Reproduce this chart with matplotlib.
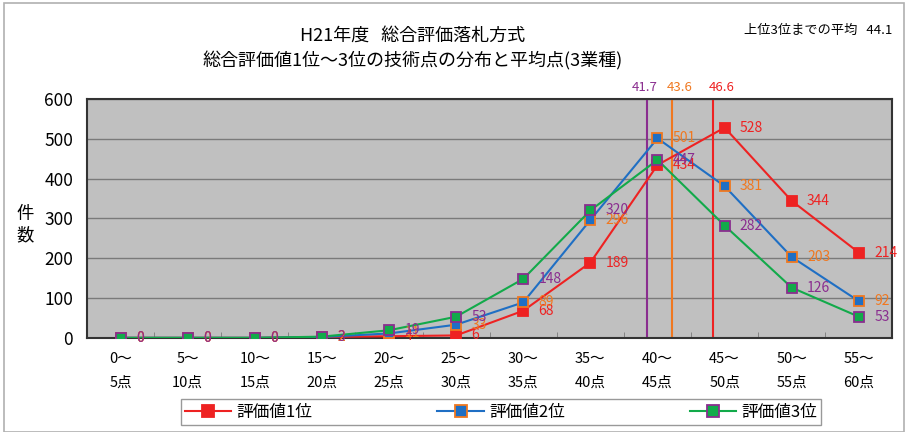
import matplotlib
matplotlib.use("Agg")
import matplotlib.pyplot as plt
from matplotlib.lines import Line2D
from matplotlib.patches import Rectangle

plt.rcParams['font.family'] = ['Noto Sans CJK JP', 'DejaVu Sans']

categories = ["0～\n5点", "5～\n10点", "10～\n15点", "15～\n20点", "20～\n25点", "25～\n30点",
              "30～\n35点", "35～\n40点", "40～\n45点", "45～\n50点", "50～\n55点", "55～\n60点"]
series_names = ["評価値1位", "評価値2位", "評価値3位"]
rank1 = [0, 0, 0, 2, 4, 6, 68, 189, 434, 528, 344, 214]
rank2 = [0, 0, 0, 2, 11, 33, 89, 296, 501, 381, 203, 92]
rank3 = [0, 0, 0, 3, 19, 53, 148, 320, 447, 282, 126, 53]
avg_scores = [41.7, 43.6, 46.6]
overall_avg = 44.1
yticks = [0, 100, 200, 300, 400, 500, 600]

line_colors = ["#ee2222", "#1f6fc4", "#12aa4a"]
edge_colors = ["#ee2222", "#f07820", "#8a2d8f"]
label_colors = ["#ee2222", "#f07820", "#8a2d8f"]
vline_colors = ["#8a2d8f", "#f07820", "#ee2222"]
vlabel_shift = [-0.03, 0.11, 0.13]

fig = plt.figure(figsize=(9.06, 4.32), dpi=100)
fig.patches.append(Rectangle((0.004, 0.0), 0.994, 0.993, transform=fig.transFigure,
                             fill=False, edgecolor="#b0b0b0", linewidth=1.2))
ax = fig.add_axes([0.096, 0.218, 0.889, 0.553])
ax.set_facecolor("#c0c0c0")

x = list(range(len(categories)))
for vals, lc, ec, lab, nm in zip([rank1, rank2, rank3], line_colors, edge_colors, label_colors, series_names):
    ax.plot(x, vals, color=lc, linewidth=1.5, marker="s", markersize=7.5,
            markerfacecolor=lc, markeredgecolor=ec, markeredgewidth=1.3, label=nm, zorder=3)
    for xi, v in zip(x, vals):
        ax.annotate(str(v), (xi, v), xytext=(11, 0), textcoords="offset points",
                    color=lab, fontsize=10, va="center", ha="left", zorder=4)

def score_to_x(s):
    return (s - 2.5) / 5.0

for s, c, sh in zip(avg_scores, vline_colors, vlabel_shift):
    ax.axvline(score_to_x(s), color=c, linewidth=1.5, zorder=2)
    ax.text(score_to_x(s) + sh, 612, f"{s}", color=c, fontsize=9.5,
            ha="center", va="bottom")

ax.set_xlim(-0.5, 11.5)
ax.set_ylim(0, 600)
ax.set_yticks(yticks)
ax.set_yticklabels([str(t) for t in yticks], fontsize=12.5)
ax.yaxis.grid(True, color="#7a7a7a", linewidth=1)
ax.set_axisbelow(True)
ax.set_xticks(x)
ax.set_xticklabels(categories, fontsize=10.5, linespacing=1.9)
ax.tick_params(axis="x", length=0, pad=10)
ax.tick_params(axis="y", length=0, pad=10)
ax.set_xticks([i + 0.5 for i in range(11)], minor=True)
ax.tick_params(axis="x", which="minor", direction="in", length=4, color="#7a7a7a")
for sp in ax.spines.values():
    sp.set_color("#333333")
    sp.set_linewidth(1.5)

fig.text(0.028, 0.48, "件\n数", fontsize=12.5, ha="center", va="center", linespacing=1.3)
fig.text(0.455, 0.918, "H21年度   総合評価落札方式", fontsize=13, ha="center", va="center")
fig.text(0.455, 0.86, "総合評価値1位～3位の技術点の分布と平均点(3業種)", fontsize=13,
         ha="center", va="center")
fig.text(0.985, 0.93, f"上位3位までの平均   {overall_avg}", fontsize=9.5, ha="right", va="center")

handles = [Line2D([0], [0], color=lc, linewidth=1.5, marker="s", markersize=8,
                  markerfacecolor=lc, markeredgecolor=ec, markeredgewidth=1.3)
           for lc, ec in zip(line_colors, edge_colors)]
leg = fig.legend(handles, series_names, loc="center", bbox_to_anchor=(0.553, 0.046),
                 ncol=3, fontsize=12, frameon=True, fancybox=False, edgecolor="#808080",
                 columnspacing=7.5, handlelength=2.8, handletextpad=0.3, borderpad=0.25,
                 borderaxespad=0)
leg.get_frame().set_linewidth(1)

fig.savefig("out.png", dpi=100)
